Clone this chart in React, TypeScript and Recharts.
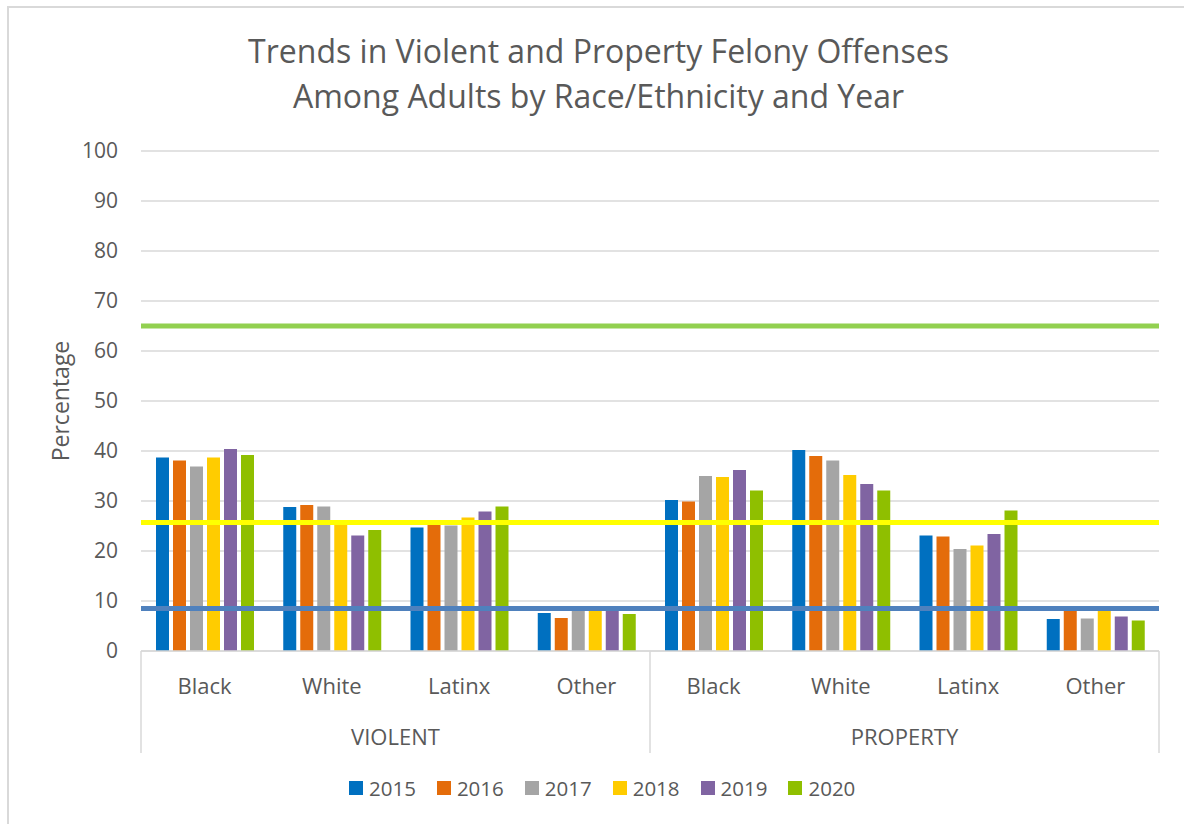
import { BarChart, Bar, XAxis, YAxis, CartesianGrid, ReferenceLine } from "recharts";

// categories (two-level axis)
const races = ["Black", "White", "Latinx", "Other", "Black", "White", "Latinx", "Other"];
const groups = ["VIOLENT", "PROPERTY"];
const years = ["2015", "2016", "2017", "2018", "2019", "2020"];
const colors = ["#0070c0", "#e46c0a", "#a5a5a5", "#ffcc00", "#8064a2", "#8fbf00"];
const yTicks = [0, 10, 20, 30, 40, 50, 60, 70, 80, 90, 100];

// percentages per year, in the order of races above
const v2015 = [38.7, 28.8, 24.7, 7.6, 30.2, 40.2, 23.1, 6.4];
const v2016 = [38.1, 29.2, 25.2, 6.6, 29.9, 39.0, 22.9, 8.2];
const v2017 = [36.9, 28.9, 25.1, 8.4, 35.0, 38.1, 20.4, 6.5];
const v2018 = [38.7, 26.2, 26.7, 8.3, 34.8, 35.2, 21.1, 8.2];
const v2019 = [40.4, 23.1, 27.9, 8.5, 36.2, 33.4, 23.4, 6.9];
const v2020 = [39.2, 24.2, 28.9, 7.4, 32.1, 32.1, 28.1, 6.1];
const seriesValues = [v2015, v2016, v2017, v2018, v2019, v2020];

// horizontal reference lines
const refLines = [
  { y: 65, color: "#92d050" },
  { y: 25.7, color: "#ffff00" },
  { y: 8.5, color: "#4f81bd" },
];

const data = races.map((race, i) => {
  const row: Record<string, string | number> = { key: `${i}`, race };
  years.forEach((yr, s) => (row[yr] = seriesValues[s][i]));
  return row;
});

const FONT = "'Open Sans', sans-serif";
const TEXT = "#595959";
const W = 1184;
const H = 824;
const M = { top: 151, right: 25, left: 81, bottom: 72 };
const Y_W = 60;
const X_H = 101;
const band = (W - M.left - Y_W - M.right) / races.length;

function CategoryTick(props: any) {
  const { x, y, index } = props;
  const race = races[index];
  const lines = [];
  if (index % 4 === 0) {
    lines.push(<line key="l" x1={x - band / 2} x2={x - band / 2} y1={y} y2={y + 102} stroke="#d9d9d9" strokeWidth={1.5} />);
  }
  if (index === races.length - 1) {
    lines.push(<line key="r" x1={x + band / 2} x2={x + band / 2} y1={y} y2={y + 102} stroke="#d9d9d9" strokeWidth={1.5} />);
  }
  return (
    <g>
      {lines}
      <text x={x} y={y + 43} textAnchor="middle" fill={TEXT} fontSize={22} fontFamily={FONT}>
        {race}
      </text>
      {index % 4 === 1 && (
        <text x={x + band / 2} y={y + 94} textAnchor="middle" fill={TEXT} fontSize={22} fontFamily={FONT}>
          {groups[Math.floor(index / 4)]}
        </text>
      )}
    </g>
  );
}

export default function App() {
  return (
    <div style={{ position: "absolute", left: 0, top: 0, width: W, height: H, background: "#fff", overflow: "hidden", fontFamily: FONT }}>
      <div style={{ position: "absolute", left: 7, top: 6, width: 1200, height: 900, borderLeft: "2px solid #d9d9d9", borderTop: "2px solid #d9d9d9" }} />
      <div style={{ position: "absolute", left: 0, width: 1197, top: 28, textAlign: "center", color: TEXT, fontSize: 32, lineHeight: "45px" }}>
        Trends in Violent and Property Felony Offenses
        <br />
        Among Adults by Race/Ethnicity and Year
      </div>
      <div
        style={{
          position: "absolute",
          left: 60,
          top: 401,
          transform: "translate(-50%, -50%) rotate(-90deg)",
          color: TEXT,
          fontSize: 23,
          whiteSpace: "nowrap",
        }}
      >
        Percentage
      </div>
      <div style={{ position: "absolute", left: 0, top: 0 }}>
        <BarChart width={W} height={H} data={data} margin={M} barSize={13} barGap={4}>
          <CartesianGrid vertical={false} stroke="#d9d9d9" strokeWidth={1.5} />
          <XAxis
            dataKey="key"
            height={X_H}
            interval={0}
            tick={<CategoryTick />}
            tickLine={false}
            tickSize={0}
            tickMargin={0}
            axisLine={{ stroke: "#d9d9d9", strokeWidth: 1.5 }}
          />
          <YAxis
            width={Y_W}
            domain={[0, 100]}
            ticks={yTicks}
            interval={0}
            axisLine={false}
            tickLine={false}
            tickSize={0}
            tickMargin={23}
            tick={{ fill: TEXT, fontSize: 21, fontFamily: FONT }}
          />
          {years.map((yr, i) => (
            <Bar key={yr} dataKey={yr} fill={colors[i]} isAnimationActive={false} />
          ))}
          {refLines.map((r) => (
            <ReferenceLine key={r.y} y={r.y} stroke={r.color} strokeWidth={5} />
          ))}
        </BarChart>
      </div>
      <div
        style={{
          position: "absolute",
          left: 349,
          top: 774,
          display: "flex",
          gap: 21,
          color: TEXT,
          fontSize: 20.5,
        }}
      >
        {years.map((yr, i) => (
          <div key={yr} style={{ display: "flex", alignItems: "center", gap: 6 }}>
            <span style={{ width: 14, height: 14, background: colors[i], display: "inline-block" }} />
            <span>{yr}</span>
          </div>
        ))}
      </div>
    </div>
  );
}
